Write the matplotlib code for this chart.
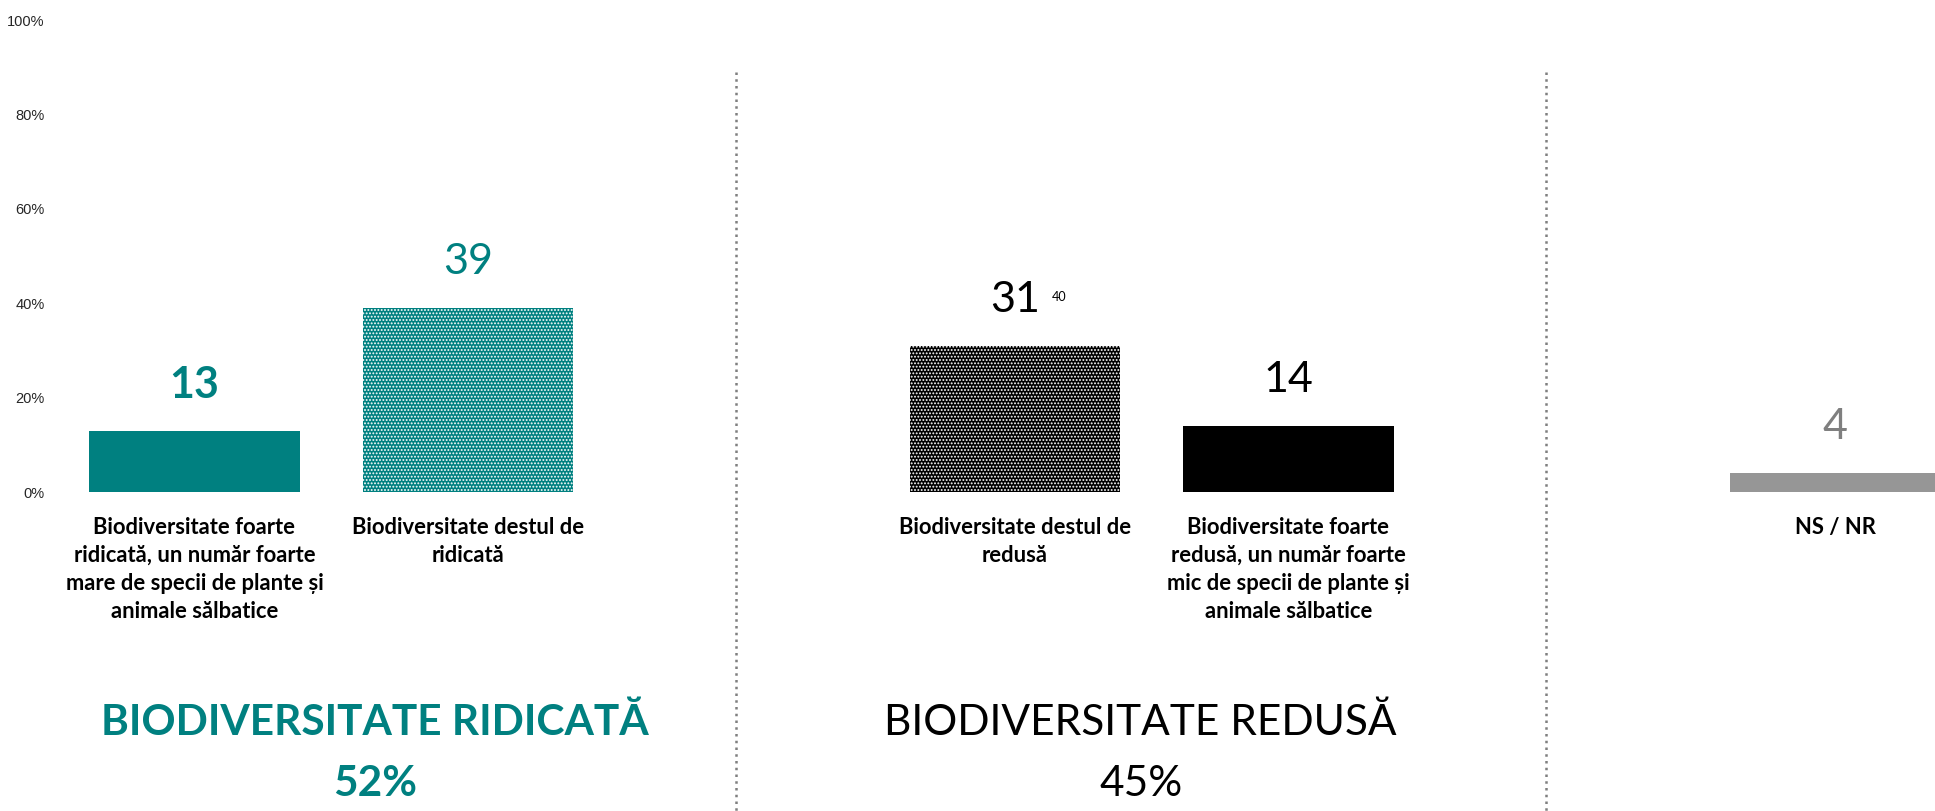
import numpy as np
import matplotlib
matplotlib.use('Agg')
from matplotlib import pyplot as plt

plt.rcParams['font.family'] = ['Lato', 'DejaVu Sans']
plt.rcParams['hatch.linewidth'] = 0.9

# data
categories = ['Biodiversitate foarte\nridicată, un număr foarte\nmare de specii de plante și\nanimale sălbatice',
              'Biodiversitate destul de\nridicată',
              'Biodiversitate destul de\nredusă',
              'Biodiversitate foarte\nredusă, un număr foarte\nmic de specii de plante și\nanimale sălbatice',
              'NS / NR']
values = [13, 39, 31, 14, 4]
positions = [0, 1, 3, 4, 6]
groups = ['BIODIVERSITATE RIDICATĂ', 'BIODIVERSITATE REDUSĂ']
group_totals = [52, 45]
stray_label = '40'

TEAL = '#008080'
GREY = '#969696'
bar_colors = [TEAL, TEAL, 'black', 'black', GREY]
hatches = [None, '.....', '.....', None, None]
label_colors = [TEAL, TEAL, 'black', 'black', '#7f7f7f']
label_weights = ['bold', 'normal', 'normal', 'normal', 'normal']

fig = plt.figure(figsize=(19.35, 8.11), dpi=100)
ax = fig.add_axes([50 / 1935, 319 / 811, 1 - 50 / 1935, 472 / 811])

for p, v, c, h in zip(positions, values, bar_colors, hatches):
    if h:
        ax.bar(p, v, width=0.77, color=c, edgecolor='white', linewidth=0, hatch=h)
    else:
        ax.bar(p, v, width=0.77, color=c, linewidth=0)

# value labels
for p, v, c, w in zip(positions, values, label_colors, label_weights):
    ax.annotate(str(v), (p, v), xytext=(0, 33), textcoords='offset points',
                ha='center', va='center', fontsize=31, color=c, fontweight=w)

ax.annotate(stray_label, (positions[2], values[2]), xytext=(32, 35),
            textcoords='offset points', ha='center', va='center', fontsize=9)

# category labels
for p, cat in zip(positions, categories):
    ax.annotate(cat, (p, 0), xytext=(0, -18), textcoords='offset points',
                ha='center', va='top', fontsize=15.8, fontweight='bold',
                linespacing=1.42, annotation_clip=False)

# separators
for sx in [1.98, 4.94]:
    ax.plot([sx, sx], [89, -70], color='#7f7f7f', lw=1.8, ls=(0, (1, 1.7)),
            clip_on=False)

# group titles
ax.text(0.66, -48.8, groups[0], ha='center', va='center', fontsize=30.5,
        fontweight='bold', color=TEAL, clip_on=False)
ax.text(0.66, -61.9, f'{group_totals[0]}%', ha='center', va='center',
        fontsize=30.5, fontweight='bold', color=TEAL, clip_on=False)
ax.text(3.46, -48.8, groups[1], ha='center', va='center', fontsize=30.5,
        color='black', clip_on=False)
ax.text(3.46, -61.9, f'{group_totals[1]}%', ha='center', va='center',
        fontsize=30.5, color='black', clip_on=False)

ax.set_xlim(-0.528, 6.364)
ax.set_ylim(0, 100)
ax.set_yticks(np.arange(0, 101, 20))
ax.set_yticklabels([f'{t}%' for t in range(0, 101, 20)], family='Liberation Sans',
                   fontsize=10.5, color='#262626')
ax.tick_params(axis='y', length=0, pad=4)
ax.set_xticks([])
for s in ax.spines.values():
    s.set_visible(False)

fig.savefig('out.png', dpi=100)
